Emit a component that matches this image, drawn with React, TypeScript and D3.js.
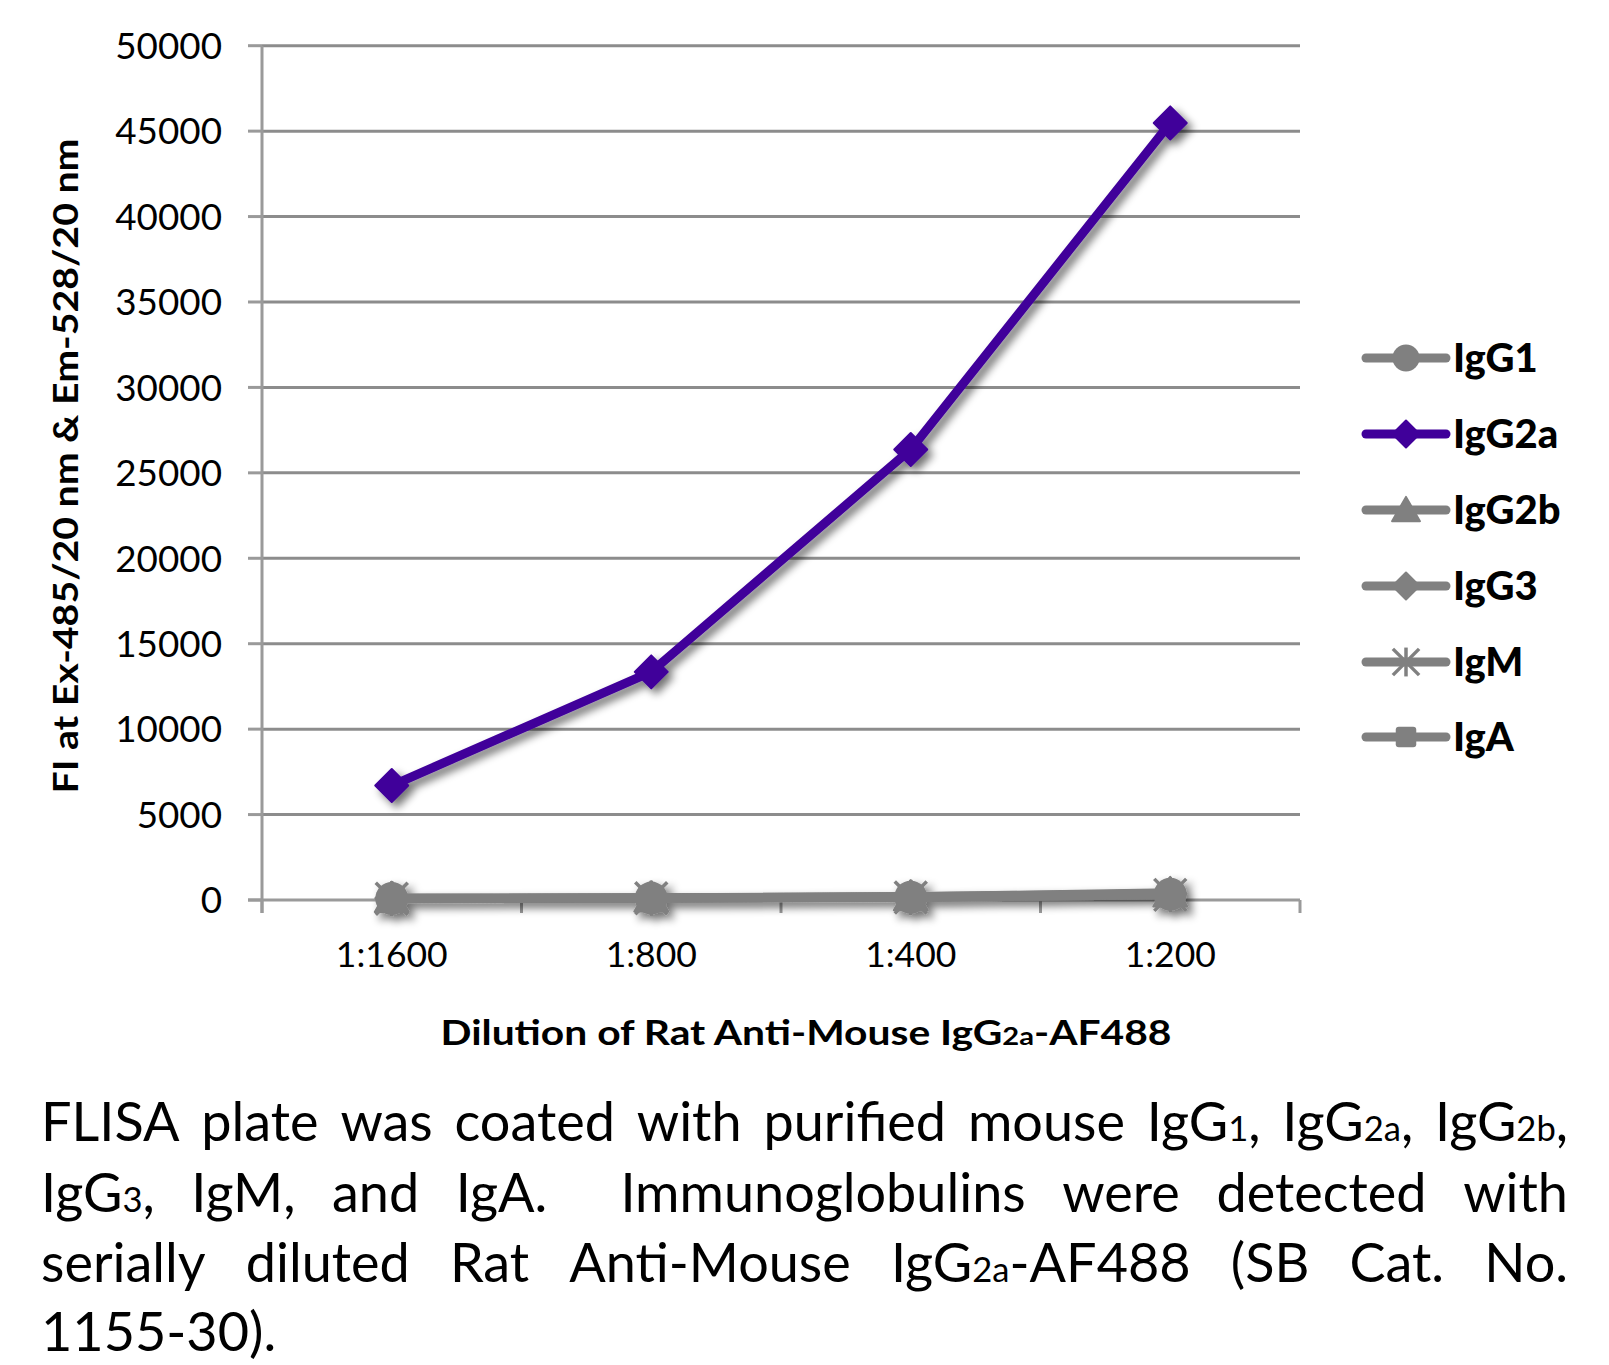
import React, { useLayoutEffect, useRef, useState } from "react";
import * as d3 from "d3";

// ---------- data ----------
const categories = ["1:1600", "1:800", "1:400", "1:200"];
const yTicks = [0, 5000, 10000, 15000, 20000, 25000, 30000, 35000, 40000, 45000, 50000];
const seriesNames = ["IgG1", "IgG2a", "IgG2b", "IgG3", "IgM", "IgA"];
const igG1 = [90, 110, 160, 330];
const igG2a = [6700, 13350, 26370, 45480];
const igG2b = [100, 120, 190, 420];
const igG3 = [110, 130, 200, 360];
const igM = [70, 100, 150, 300];
const igA = [80, 110, 170, 320];

const captionText = [
  "FLISA plate was coated with purified mouse IgG_{1}, IgG_{2a}, IgG_{2b},",
  "IgG_{3}, IgM, and IgA.  Immunoglobulins were detected with",
  "serially diluted Rat Anti-Mouse IgG_{2a}-AF488 (SB Cat. No.",
  "1155-30).",
];

// ---------- styles ----------
const W = 1609;
const H = 1365;
const FONT = "Lato, 'Open Sans', sans-serif";
const PURPLE = "#40009a";
const GRAY = "#808080";
const GRID = "#8c8c8c";
const AXIS = "#9a9a9a";

const seriesValues = [igG1, igG2a, igG2b, igG3, igM, igA];
const seriesColors = [GRAY, PURPLE, GRAY, GRAY, GRAY, GRAY];
const seriesMarkers = ["circle", "diamond", "triangle", "diamond", "asterisk", "square"];

const plot = { left: 262, right: 1300, top: 45.7, bottom: 900 };

function Marker({ type, x, y, color, s }: { type: string; x: number; y: number; color: string; s: number }) {
  if (type === "circle") return <circle cx={x} cy={y} r={16.5 * s} fill={color} />;
  if (type === "diamond") {
    const h = 16.5 * s;
    return (
      <path
        d={`M${x},${y - h}L${x + h},${y}L${x},${y + h}L${x - h},${y}Z`}
        fill={color}
        stroke={color}
        strokeWidth={2}
        strokeLinejoin="round"
      />
    );
  }
  if (type === "triangle") {
    const w = 17 * s;
    const h = 16 * s;
    return (
      <path
        d={`M${x},${y - h}L${x + w},${y + h * 0.85}L${x - w},${y + h * 0.85}Z`}
        fill={color}
        stroke={color}
        strokeWidth={2}
        strokeLinejoin="round"
      />
    );
  }
  if (type === "square") {
    const h = 12.5 * s;
    return <rect x={x - h} y={y - h} width={2 * h} height={2 * h} rx={3} fill={color} />;
  }
  // asterisk: X plus vertical
  const a = 16 * s;
  return (
    <g stroke={color} strokeWidth={3.5} strokeLinecap="butt">
      <line x1={x - a} y1={y - a} x2={x + a} y2={y + a} />
      <line x1={x - a} y1={y + a} x2={x + a} y2={y - a} />
      <line x1={x} y1={y - a * 1.1} x2={x} y2={y + a * 1.1} />
    </g>
  );
}

function parseWord(word: string) {
  const segs: { t: string; sub: boolean }[] = [];
  const re = /_\{([^}]*)\}/g;
  let last = 0;
  let m;
  while ((m = re.exec(word)) !== null) {
    if (m.index > last) segs.push({ t: word.slice(last, m.index), sub: false });
    segs.push({ t: m[1], sub: true });
    last = m.index + m[0].length;
  }
  if (last < word.length) segs.push({ t: word.slice(last), sub: false });
  return segs;
}

function Segs({ segs, subSize }: { segs: { t: string; sub: boolean }[]; subSize: number }) {
  return (
    <>
      {segs.map((sg, i) =>
        sg.sub ? (
          <tspan key={i} fontSize={subSize}>
            {sg.t}
          </tspan>
        ) : (
          <tspan key={i}>{sg.t}</tspan>
        )
      )}
    </>
  );
}

const CAP_LEFT = 41;
const CAP_RIGHT = 1568;
const CAP_SIZE = 54;
const capBaselines = [1141, 1212, 1282, 1351];

function Caption() {
  const lines = captionText.map((line, li) => {
    const tokens = line.split(" ");
    const words: { segs: { t: string; sub: boolean }[]; gapWeight: number }[] = [];
    let pending = 0;
    tokens.forEach((tk) => {
      if (tk === "") {
        pending += 1;
        return;
      }
      words.push({ segs: parseWord(tk), gapWeight: words.length === 0 ? 0 : 1 + pending });
      pending = 0;
    });
    return { words, justify: li < captionText.length - 1 };
  });

  const refs = useRef<(SVGTextElement | null)[][]>(lines.map(() => []));
  const [layout, setLayout] = useState<{ x: number[] }[] | null>(null);

  useLayoutEffect(() => {
    const res = lines.map((ln, li) => {
      const widths = ln.words.map((_, wi) => {
        const el = refs.current[li][wi];
        return el ? el.getComputedTextLength() : 0;
      });
      const total = widths.reduce((a, b) => a + b, 0);
      const space = CAP_SIZE * 0.22;
      const weights = ln.words.reduce((a, w) => a + w.gapWeight, 0);
      let gap = space;
      if (ln.justify) {
        gap = Math.max(space * 0.6, (CAP_RIGHT - CAP_LEFT - total) / weights);
      }
      let x = CAP_LEFT;
      const xs: number[] = [];
      ln.words.forEach((w, wi) => {
        x += w.gapWeight * gap;
        xs.push(x);
        x += widths[wi];
      });
      return { x: xs };
    });
    setLayout(res);
  }, []);

  return (
    <g fontFamily={FONT} fontSize={CAP_SIZE} fill="#000">
      {lines.map((ln, li) =>
        ln.words.map((w, wi) => {
          const lay = layout ? layout[li] : null;
          const x = lay ? lay.x[wi] : CAP_LEFT + wi * 120;
          return (
            <text
              key={`${li}-${wi}`}
              ref={(el) => {
                refs.current[li][wi] = el;
              }}
              x={x}
              y={capBaselines[li]}
            >
              <Segs segs={w.segs} subSize={CAP_SIZE * 0.64} />
            </text>
          );
        })
      )}
    </g>
  );
}

export default function App() {
  const x = d3.scaleBand<string>().domain(categories).range([plot.left, plot.right]).padding(0);
  const y = d3.scaleLinear().domain([0, 50000]).range([plot.bottom, plot.top]);
  const cx = (c: string) => (x(c) as number) + x.bandwidth() / 2;
  const line = d3
    .line<number>()
    .x((_, i) => cx(categories[i]))
    .y((v) => y(v));

  const boundaries = categories.map((c) => x(c) as number).concat([plot.right]);
  const legendY = [358, 434, 510, 586, 662, 737];

  return (
    <svg
      width={W}
      height={H}
      viewBox={`0 0 ${W} ${H}`}
      style={{ position: "absolute", left: 0, top: 0, background: "#fff" }}
    >
      <defs>
        <filter id="shadow" filterUnits="userSpaceOnUse" x={0} y={0} width={W} height={H}>
          <feGaussianBlur in="SourceAlpha" stdDeviation={4} />
          <feOffset dx={5} dy={5} result="off" />
          <feComponentTransfer>
            <feFuncA type="linear" slope={0.55} />
          </feComponentTransfer>
          <feMerge>
            <feMergeNode />
            <feMergeNode in="SourceGraphic" />
          </feMerge>
        </filter>
      </defs>
      <rect x={0} y={0} width={W} height={H} fill="#fff" />

      {/* gridlines */}
      <g stroke={GRID} strokeWidth={3}>
        {yTicks
          .filter((t) => t > 0)
          .map((t) => (
            <line key={t} x1={plot.left} x2={plot.right} y1={y(t)} y2={y(t)} />
          ))}
      </g>
      {/* axes */}
      <g stroke={AXIS} strokeWidth={3}>
        {yTicks.map((t) => (
          <line key={t} x1={plot.left - 14} x2={plot.left} y1={y(t)} y2={y(t)} />
        ))}
        <line x1={plot.left - 14} x2={plot.right} y1={y(0)} y2={y(0)} />
        <line x1={plot.left} x2={plot.left} y1={plot.top} y2={plot.bottom + 13} />
        {boundaries.map((b, i) => (
          <line key={i} x1={b} x2={b} y1={plot.bottom} y2={plot.bottom + 13} />
        ))}
      </g>
      {/* y tick labels */}
      <g fontFamily={FONT} fontSize={36.8} fill="#000" textAnchor="end">
        {yTicks.map((t) => (
          <text key={t} x={222} y={y(t)} dy="0.36em">
            {t}
          </text>
        ))}
      </g>
      {/* x tick labels */}
      <g fontFamily={FONT} fontSize={35.5} fill="#000" textAnchor="middle">
        {categories.map((c) => (
          <text key={c} x={cx(c)} y={967}>
            {c}
          </text>
        ))}
      </g>
      {/* axis titles */}
      <text
        transform="translate(78,466) rotate(-90)"
        textAnchor="middle"
        fontFamily={FONT}
        fontWeight="bold"
        fontSize={34}
        textLength={655}
        lengthAdjust="spacingAndGlyphs"
      >
        FI at Ex-485/20 nm &amp; Em-528/20 nm
      </text>
      <text
        x={806}
        y={1045}
        textAnchor="middle"
        fontFamily={FONT}
        fontWeight="bold"
        fontSize={35}
        textLength={731}
        lengthAdjust="spacingAndGlyphs"
      >
        Dilution of Rat Anti-Mouse IgG<tspan fontSize={25}>2a</tspan>-AF488
      </text>

      {/* series */}
      <g filter="url(#shadow)">
        {seriesNames.map((name, si) => (
          <g key={name}>
            <path
              d={line(seriesValues[si]) || ""}
              fill="none"
              stroke={seriesColors[si]}
              strokeWidth={9}
              strokeLinejoin="round"
            />
            {seriesValues[si].map((v, i) => (
              <Marker
                key={i}
                type={seriesMarkers[si]}
                x={cx(categories[i])}
                y={y(v)}
                color={seriesColors[si]}
                s={1}
              />
            ))}
          </g>
        ))}
      </g>

      {/* legend */}
      <g>
        {seriesNames.map((name, si) => (
          <g key={name}>
            <line
              x1={1366}
              x2={1446}
              y1={legendY[si]}
              y2={legendY[si]}
              stroke={seriesColors[si]}
              strokeWidth={9}
              strokeLinecap="round"
            />
            <Marker type={seriesMarkers[si]} x={1406} y={legendY[si]} color={seriesColors[si]} s={0.82} />
            <text
              x={1453}
              y={legendY[si]}
              dy="0.36em"
              fontFamily={FONT}
              fontWeight={900}
              fontSize={40}
              fill="#000"
            >
              {name}
            </text>
          </g>
        ))}
      </g>

      <Caption />
    </svg>
  );
}
